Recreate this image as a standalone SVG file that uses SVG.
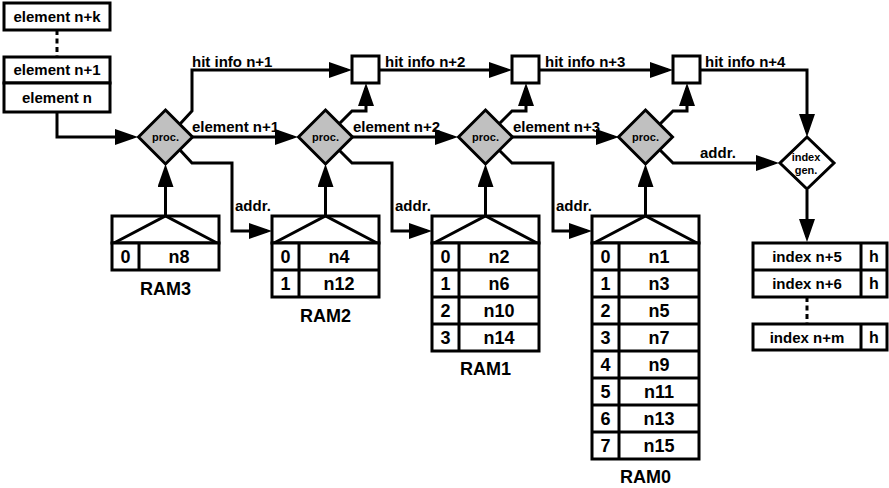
<svg xmlns="http://www.w3.org/2000/svg" width="889" height="488" viewBox="0 0 889 488">
<defs>
<marker id="ah" viewBox="0 0 23 16" markerWidth="23" markerHeight="16" refX="18" refY="8" orient="auto" markerUnits="userSpaceOnUse">
<path d="M0,0 L23,8 L0,16 z" fill="#000"/>
</marker>
</defs>
<style>
.ln{fill:none;stroke:#000;stroke-width:3}
.ar{fill:none;stroke:#000;stroke-width:3;marker-end:url(#ah)}
.dash{fill:none;stroke:#000;stroke-width:3;stroke-dasharray:5 3.5}
.bx{fill:#fff;stroke:#000;stroke-width:3}
.dm{fill:#c0c0c0;stroke:#000;stroke-width:3;stroke-linejoin:miter}
.dw{fill:#fff;stroke:#000;stroke-width:3}
text{font-family:"Liberation Sans",Arial,sans-serif;font-weight:bold;fill:#000}
.t15{font-size:15px}
.t16{font-size:16px}
.t18{font-size:18px}
.t11{font-size:11px}
.c{text-anchor:middle}
</style>
<g id="connectors">
<path class="dash" d="M57,30 V57"/>
<path class="ar" d="M57,112 V137 H133"/>
<path class="ar" d="M192,137 H293"/>
<path class="ar" d="M352,137 H453"/>
<path class="ar" d="M512,137 H614"/>
<path class="ar" d="M180,124 L192,111 V70 H347"/>
<path class="ar" d="M379,70 H507"/>
<path class="ar" d="M539,70 H668"/>
<path class="ar" d="M700,70 H807 V132"/>
<path class="ar" d="M339,124 L352,111 H366 V88"/>
<path class="ar" d="M499,124 L512,111 H526 V88"/>
<path class="ar" d="M660,124 L673,111 H687 V88"/>
<path class="ar" d="M180,150 L192,163 H232 V231 H267"/>
<path class="ar" d="M339,150 L352,163 H392 V231 H427"/>
<path class="ar" d="M499,150 L512,163 H553 V231 H587"/>
<path class="ar" d="M660,150 L673,163 H774"/>
<path class="ar" d="M165.5,216 V169"/>
<path class="ar" d="M325.5,216 V169"/>
<path class="ar" d="M485.5,216 V169"/>
<path class="ar" d="M645.5,216 V169"/>
<path class="ar" d="M807,190 V237"/>
<path class="dash" d="M807,297 V324"/>
<text class="t15" x="192" y="67">hit info n+1</text>
<text class="t15" x="385" y="67">hit info n+2</text>
<text class="t15" x="545" y="67">hit info n+3</text>
<text class="t15" x="705" y="67">hit info n+4</text>
<text class="t15" x="192" y="132">element n+1</text>
<text class="t15" x="353" y="132">element n+2</text>
<text class="t15" x="513" y="132">element n+3</text>
<text class="t15" x="235" y="211">addr.</text>
<text class="t15" x="395" y="211">addr.</text>
<text class="t15" x="556" y="211">addr.</text>
<text class="t15" x="700" y="158">addr.</text>
</g>
<g id="element-queue">
<rect class="bx" x="4" y="3" width="106" height="27"/>
<text class="t15 c" x="57" y="22">element n+k</text>
<rect class="bx" x="4" y="57" width="106" height="26"/>
<text class="t15 c" x="57" y="75">element n+1</text>
<rect class="bx" x="4" y="83" width="106" height="29"/>
<text class="t15 c" x="57" y="103">element n</text>
</g>
<g id="proc3">
<polygon class="dm" points="165.5,110 192.5,137 165.5,164 138.5,137"/>
<text class="t11 c" x="165.5" y="141">proc.</text>
</g>
<g id="proc2">
<polygon class="dm" points="325.5,110 352.5,137 325.5,164 298.5,137"/>
<text class="t11 c" x="325.5" y="141">proc.</text>
</g>
<g id="proc1">
<polygon class="dm" points="485.5,110 512.5,137 485.5,164 458.5,137"/>
<text class="t11 c" x="485.5" y="141">proc.</text>
</g>
<g id="proc0">
<polygon class="dm" points="645.5,110 672.5,137 645.5,164 618.5,137"/>
<text class="t11 c" x="645.5" y="141">proc.</text>
</g>
<g id="hit1"><rect class="bx" x="352" y="56" width="27" height="27"/></g>
<g id="hit2"><rect class="bx" x="512" y="56" width="27" height="27"/></g>
<g id="hit3"><rect class="bx" x="673" y="56" width="27" height="27"/></g>
<g id="index-gen">
<polygon class="dw" points="807,137 834,163 807,189 780,163"/>
<text class="t11 c" x="806" y="161">index</text>
<text class="t11 c" x="806" y="174">gen.</text>
</g>
<g id="RAM3">
<rect class="bx" x="112" y="216" width="107" height="27"/>
<path class="ln" d="M114,243 L165.5,216 L217,243"/>
<rect class="bx" x="112" y="243" width="107" height="27"/>
<path class="ln" d="M139,243 V270"/>
<text class="t18 c" x="125.5" y="263">0</text><text class="t18 c" x="179" y="263">n8</text>
<text class="t18 c" x="165.5" y="295">RAM3</text>
</g>
<g id="RAM2">
<rect class="bx" x="272" y="216" width="107" height="27"/>
<path class="ln" d="M274,243 L325.5,216 L377,243"/>
<rect class="bx" x="272" y="243" width="107" height="54"/>
<path class="ln" d="M272,270 H379 M299,243 V297"/>
<text class="t18 c" x="285.5" y="263">0</text><text class="t18 c" x="339" y="263">n4</text>
<text class="t18 c" x="285.5" y="290">1</text><text class="t18 c" x="339" y="290">n12</text>
<text class="t18 c" x="325.5" y="322">RAM2</text>
</g>
<g id="RAM1">
<rect class="bx" x="432" y="216" width="107" height="27"/>
<path class="ln" d="M434,243 L485.5,216 L537,243"/>
<rect class="bx" x="432" y="243" width="107" height="108"/>
<path class="ln" d="M432,270 H539 M432,297 H539 M432,324 H539 M459,243 V351"/>
<text class="t18 c" x="445.5" y="263">0</text><text class="t18 c" x="499" y="263">n2</text>
<text class="t18 c" x="445.5" y="290">1</text><text class="t18 c" x="499" y="290">n6</text>
<text class="t18 c" x="445.5" y="317">2</text><text class="t18 c" x="499" y="317">n10</text>
<text class="t18 c" x="445.5" y="344">3</text><text class="t18 c" x="499" y="344">n14</text>
<text class="t18 c" x="485.5" y="375">RAM1</text>
</g>
<g id="RAM0">
<rect class="bx" x="592" y="216" width="107" height="27"/>
<path class="ln" d="M594,243 L645.5,216 L697,243"/>
<rect class="bx" x="592" y="243" width="107" height="216"/>
<path class="ln" d="M592,270 H699 M592,297 H699 M592,324 H699 M592,351 H699 M592,378 H699 M592,405 H699 M592,432 H699 M619,243 V459"/>
<text class="t18 c" x="605.5" y="263">0</text><text class="t18 c" x="659" y="263">n1</text>
<text class="t18 c" x="605.5" y="290">1</text><text class="t18 c" x="659" y="290">n3</text>
<text class="t18 c" x="605.5" y="317">2</text><text class="t18 c" x="659" y="317">n5</text>
<text class="t18 c" x="605.5" y="344">3</text><text class="t18 c" x="659" y="344">n7</text>
<text class="t18 c" x="605.5" y="371">4</text><text class="t18 c" x="659" y="371">n9</text>
<text class="t18 c" x="605.5" y="398">5</text><text class="t18 c" x="659" y="398">n11</text>
<text class="t18 c" x="605.5" y="425">6</text><text class="t18 c" x="659" y="425">n13</text>
<text class="t18 c" x="605.5" y="452">7</text><text class="t18 c" x="659" y="452">n15</text>
<text class="t18 c" x="645.5" y="483">RAM0</text>
</g>
<g id="index-table">
<rect class="bx" x="753" y="243" width="134" height="54"/>
<path class="ln" d="M753,270 H887 M861,243 V297"/>
<text class="t15 c" x="807" y="262">index n+5</text><text class="t16 c" x="874" y="262">h</text>
<text class="t15 c" x="807" y="289">index n+6</text><text class="t16 c" x="874" y="289">h</text>
<rect class="bx" x="753" y="324" width="134" height="26"/>
<path class="ln" d="M861,324 V350"/>
<text class="t15 c" x="807" y="343">index n+m</text><text class="t16 c" x="874" y="343">h</text>
</g>
</svg>
